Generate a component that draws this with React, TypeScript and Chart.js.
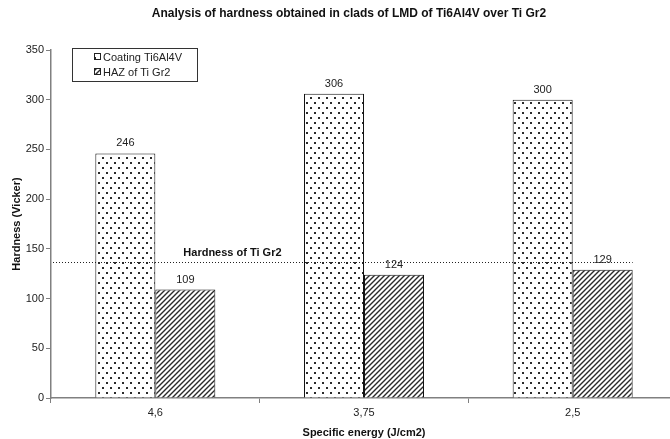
import React, { useEffect, useRef } from "react";
import { Chart, registerables } from "chart.js";

Chart.register(...registerables);

const categories = ["4,6", "3,75", "2,5"];
const coatingValues = [246, 306, 300];
const hazValues = [109, 124, 129];
const seriesNames = ["Coating Ti6Al4V", "HAZ of Ti Gr2"];
const referenceValue = 137;
const referenceLabel = "Hardness of Ti Gr2";
const yMax = 350;
const yStep = 50;
const chartTitle = "Analysis of hardness obtained in clads of LMD of Ti6Al4V over Ti Gr2";
const xTitle = "Specific energy (J/cm2)";
const yTitle = "Hardness (Vicker)";

const FONT = "'Liberation Sans', Arial, sans-serif";
const W = 698;
const H = 439;

function makeDots(): CanvasPattern | string {
  const c = document.createElement("canvas");
  c.width = 8;
  c.height = 10;
  const g = c.getContext("2d");
  if (!g) return "#fff";
  g.fillStyle = "#fff";
  g.fillRect(0, 0, 8, 10);
  g.fillStyle = "#2a2a2a";
  g.fillRect(2, 2, 2, 2);
  g.fillRect(6, 7, 2, 2);
  return g.createPattern(c, "repeat") || "#fff";
}

function makeHatch(): CanvasPattern | string {
  const s = 5;
  const c = document.createElement("canvas");
  c.width = s;
  c.height = s;
  const g = c.getContext("2d");
  if (!g) return "#888";
  g.fillStyle = "#fff";
  g.fillRect(0, 0, s, s);
  g.strokeStyle = "#2a2a2a";
  g.lineWidth = 1.4;
  g.beginPath();
  g.moveTo(-1, s + 1);
  g.lineTo(s + 1, -1);
  g.moveTo(-1, 1);
  g.lineTo(1, -1);
  g.moveTo(s - 1, s + 1);
  g.lineTo(s + 1, s - 1);
  g.stroke();
  return g.createPattern(c, "repeat") || "#888";
}

export default function App() {
  const ref = useRef<HTMLCanvasElement | null>(null);

  useEffect(() => {
    const canvas = ref.current;
    if (!canvas) return;
    const dots = makeDots();
    const hatch = makeHatch();
    const fills = [dots, hatch];

    const overlay = {
      id: "overlay",
      afterDatasetsDraw(chart: any) {
        const ctx = chart.ctx as CanvasRenderingContext2D;
        const area = chart.chartArea;
        const xs = chart.scales.x;
        const ys = chart.scales.y;
        ctx.save();
        ctx.font = `11px ${FONT}`;
        ctx.fillStyle = "#222";
        ctx.textAlign = "center";
        ctx.textBaseline = "middle";
        chart.data.datasets.forEach((ds: any, di: number) => {
          const meta = chart.getDatasetMeta(di);
          meta.data.forEach((bar: any, i: number) => {
            ctx.fillText(String(ds.data[i]), bar.x, bar.y - 10);
          });
        });
        const yRef = Math.round(ys.getPixelForValue(referenceValue)) + 0.5;
        const lastMeta = chart.getDatasetMeta(1);
        const lastBar: any = lastMeta.data[lastMeta.data.length - 1];
        const xEnd = lastBar.x + lastBar.width / 2;
        ctx.strokeStyle = "#222";
        ctx.lineWidth = 1;
        ctx.setLineDash([1, 2]);
        ctx.beginPath();
        ctx.moveTo(area.left + 2, yRef);
        ctx.lineTo(xEnd, yRef);
        ctx.stroke();
        ctx.setLineDash([]);
        ctx.font = `bold 11px ${FONT}`;
        ctx.textAlign = "left";
        ctx.fillStyle = "#111";
        ctx.fillText(referenceLabel, xs.getPixelForValue(0) + 28, yRef - 10);
        ctx.restore();
      },
      afterDraw(chart: any) {
        const ctx = chart.ctx as CanvasRenderingContext2D;
        const area = chart.chartArea;
        ctx.save();
        ctx.font = `bold 12px ${FONT}`;
        ctx.fillStyle = "#111";
        ctx.textAlign = "center";
        ctx.textBaseline = "middle";
        ctx.fillText(chartTitle, W / 2, 14);
        ctx.font = `bold 11px ${FONT}`;
        ctx.fillText(xTitle, (area.left + area.right) / 2, 433);
        ctx.save();
        ctx.translate(17, (area.top + area.bottom) / 2);
        ctx.rotate(-Math.PI / 2);
        ctx.fillText(yTitle, 0, 0);
        ctx.restore();
        const lx = area.left + 21;
        const ly = area.top - 2;
        ctx.fillStyle = "#fff";
        ctx.fillRect(lx, ly, 125, 33);
        ctx.strokeStyle = "#333";
        ctx.lineWidth = 1;
        ctx.strokeRect(lx + 0.5, ly + 0.5, 125, 33);
        ctx.font = `11px ${FONT}`;
        ctx.textAlign = "left";
        seriesNames.forEach((name, i) => {
          const cy = ly + 9 + i * 15;
          ctx.fillStyle = fills[i] as any;
          ctx.fillRect(lx + 22, cy - 3, 6, 6);
          ctx.strokeStyle = "#222";
          ctx.strokeRect(lx + 22.5, cy - 3.5, 6, 6);
          ctx.fillStyle = "#222";
          ctx.fillText(name, lx + 31, cy + 0.5);
        });
        ctx.restore();
      },
    };

    const chart = new Chart(canvas, {
      type: "bar",
      data: {
        labels: categories,
        datasets: [
          {
            label: seriesNames[0],
            data: coatingValues,
            backgroundColor: dots as any,
            borderColor: "#111",
            borderWidth: 1,
            borderSkipped: "bottom",
          },
          {
            label: seriesNames[1],
            data: hazValues,
            backgroundColor: hatch as any,
            borderColor: "#111",
            borderWidth: 1,
            borderSkipped: "bottom",
          },
        ],
      },
      options: {
        responsive: false,
        animation: false,
        events: [],
        layout: { padding: { top: 50, right: 21, left: 0, bottom: 0 } },
        datasets: { bar: { categoryPercentage: 0.575, barPercentage: 1 } },
        plugins: {
          legend: { display: false },
          title: { display: false },
          tooltip: { enabled: false },
        },
        scales: {
          x: {
            offset: true,
            afterFit: (s: any) => {
              s.height = 41;
            },
            border: { display: true, color: "#808080", width: 1.5 },
            grid: {
              offset: true,
              drawOnChartArea: false,
              drawTicks: true,
              tickLength: 5,
              color: "#808080",
              lineWidth: 1,
            },
            ticks: {
              color: "#222",
              font: { family: FONT, size: 11 },
              padding: 3,
            },
          },
          y: {
            min: 0,
            max: yMax,
            afterFit: (s: any) => {
              s.width = 51;
            },
            border: { display: true, color: "#808080", width: 1.5 },
            grid: {
              drawOnChartArea: false,
              drawTicks: true,
              tickLength: 5,
              color: "#808080",
              lineWidth: 1,
            },
            ticks: {
              stepSize: yStep,
              color: "#222",
              font: { family: FONT, size: 11 },
              padding: 2,
            },
          },
        },
      },
      plugins: [overlay],
    });
    return () => chart.destroy();
  }, []);

  return (
    <div
      style={{
        position: "fixed",
        left: 0,
        top: 0,
        width: 670,
        height: H,
        overflow: "hidden",
        background: "#fff",
      }}
    >
      <canvas ref={ref} width={W} height={H} style={{ display: "block", width: W, height: H }} />
    </div>
  );
}
